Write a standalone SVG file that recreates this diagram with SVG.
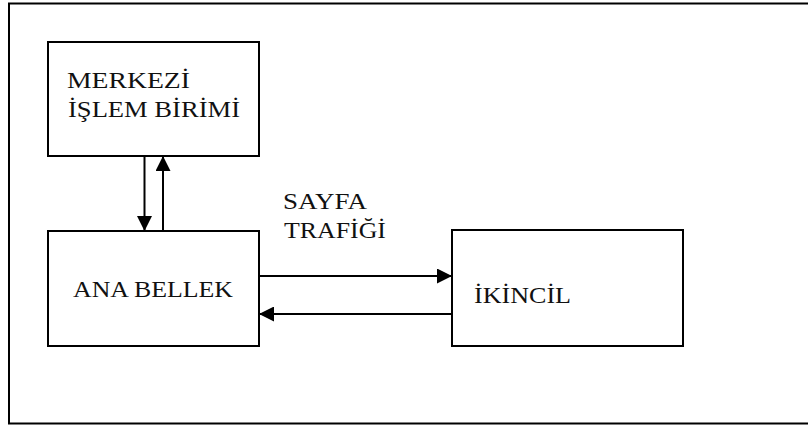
<svg xmlns="http://www.w3.org/2000/svg" width="808" height="426" viewBox="0 0 808 426">
  <style>
    .box { fill: #fff; stroke: #000; stroke-width: 2; }
    .lbl { font-family: "Liberation Serif", "Times New Roman", serif; font-size: 23px; fill: #111; }
    .conn { stroke: #000; stroke-width: 2; fill: none; }
  </style>
  <defs>
    <marker id="arrow" viewBox="0 0 10 10" refX="10" refY="5" markerWidth="20" markerHeight="15" markerUnits="userSpaceOnUse" orient="auto">
      <path d="M0,0 L10,5 L0,10 Z" fill="#000"/>
    </marker>
  </defs>
  <rect width="808" height="426" fill="#fff"/>
  <!-- outer frame, open on the right -->
  <path d="M808,3.5 H9 V423.5 H808" class="conn"/>

  <g id="cpu">
    <rect x="48" y="42" width="211" height="114" class="box"/>
    <text x="67" y="88" class="lbl" textLength="123" lengthAdjust="spacingAndGlyphs">MERKEZİ</text>
    <text x="68" y="117" class="lbl" textLength="172" lengthAdjust="spacingAndGlyphs">İŞLEM BİRİMİ</text>
  </g>
  <g id="memory">
    <rect x="48" y="231" width="211" height="115" class="box"/>
    <text x="73" y="297" class="lbl" textLength="160" lengthAdjust="spacingAndGlyphs">ANA BELLEK</text>
  </g>
  <g id="secondary">
    <rect x="452" y="230" width="231" height="116" class="box"/>
    <text x="474" y="303" class="lbl" textLength="97" lengthAdjust="spacingAndGlyphs">İKİNCİL</text>
  </g>
  <g id="traffic-label">
    <text x="283" y="209" class="lbl" textLength="84" lengthAdjust="spacingAndGlyphs">SAYFA</text>
    <text x="284" y="238" class="lbl" textLength="102" lengthAdjust="spacingAndGlyphs">TRAFİĞİ</text>
  </g>

  <g id="connectors">
    <line x1="144.5" y1="156" x2="144.5" y2="231" class="conn" marker-end="url(#arrow)"/>
    <line x1="163" y1="231" x2="163" y2="156" class="conn" marker-end="url(#arrow)"/>
    <line x1="259" y1="276" x2="452" y2="276" class="conn" marker-end="url(#arrow)"/>
    <line x1="452" y1="314" x2="259" y2="314" class="conn" marker-end="url(#arrow)"/>
  </g>
</svg>
